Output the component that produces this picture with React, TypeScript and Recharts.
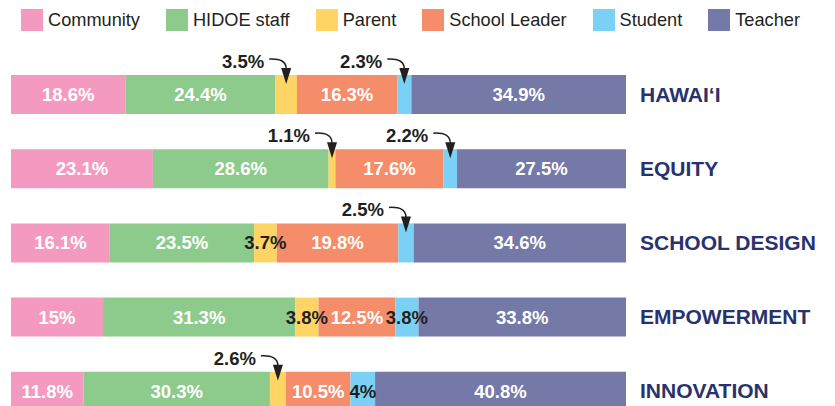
import React from "react";
import { BarChart, Bar, XAxis, YAxis, Legend, LabelList } from "recharts";

const categories = ["HAWAI\u2018I", "EQUITY", "SCHOOL DESIGN", "EMPOWERMENT", "INNOVATION"];
const community = [18.6, 23.1, 16.1, 15, 11.8];
const hidoeStaff = [24.4, 28.6, 23.5, 31.3, 30.3];
const parent = [3.5, 1.1, 3.7, 3.8, 2.6];
const schoolLeader = [16.3, 17.6, 19.8, 12.5, 10.5];
const student = [2.3, 2.2, 2.5, 3.8, 4];
const teacher = [34.9, 27.5, 34.6, 33.8, 40.8];

const seriesNames = ["Community", "HIDOE staff", "Parent", "School Leader", "Student", "Teacher"];
const seriesKeys = ["community", "hidoe", "parent", "leader", "student", "teacher"];
const seriesValues = [community, hidoeStaff, parent, schoolLeader, student, teacher];
const colors = ["#f49ac0", "#8dcb8c", "#fed464", "#f58c6a", "#7ad1f5", "#7479a7"];

const data = categories.map((name, i) => {
  const row: any = { name };
  seriesKeys.forEach((k, s) => {
    row[k] = seriesValues[s][i];
  });
  return row;
});

const FONT = "'Liberation Sans', Arial, Helvetica, sans-serif";
const DARK = "#231f20";

const makeLabel = (values: number[]) => (props: any) => {
  const { x, y, width, height, index } = props;
  const v = values[index];
  const cx = x + width / 2;
  const text = `${v}%`;
  if (v >= 5) {
    return (
      <text x={cx} y={y + height / 2 + 6.5} textAnchor="middle" fill="#ffffff" fontSize={18.5} fontWeight="bold" fontFamily={FONT}>
        {text}
      </text>
    );
  }
  if (v >= 3.6) {
    return (
      <text x={cx} y={y + height / 2 + 6.5} textAnchor="middle" fill={DARK} fontSize={18.5} fontWeight="bold" fontFamily={FONT}>
        {text}
      </text>
    );
  }
  const top = y;
  return (
    <g>
      <text x={cx - 22} y={top - 7} textAnchor="end" fill={DARK} fontSize={18.5} fontWeight="bold" fontFamily={FONT}>
        {text}
      </text>
      <path d={`M ${cx - 17} ${top - 16} Q ${cx} ${top - 17} ${cx} ${top - 6}`} fill="none" stroke={DARK} strokeWidth={1.5} />
      <polygon points={`${cx - 5},${top - 7} ${cx + 5},${top - 7} ${cx},${top + 9}`} fill={DARK} />
    </g>
  );
};

const LegendContent = () => (
  <div style={{ display: "flex", flexWrap: "nowrap", alignItems: "flex-start", width: 835, height: 40, boxSizing: "border-box", paddingTop: 9, paddingLeft: 21, fontFamily: FONT, whiteSpace: "nowrap" }}>
    {seriesNames.map((n, i) => (
      <div key={n} style={{ display: "flex", flexShrink: 0, alignItems: "center", marginRight: 26 }}>
        <div style={{ width: 22, height: 22, flexShrink: 0, background: colors[i], marginRight: 5 }} />
        <span style={{ fontSize: 18.2, lineHeight: "22px", color: DARK, whiteSpace: "nowrap" }}>{n}</span>
      </div>
    ))}
  </div>
);

const CategoryTick = (props: any) => {
  const { x, y, payload } = props;
  return (
    <text x={x} y={y + 7.5} textAnchor="start" fill="#28336e" fontSize={21} fontWeight="bold" fontFamily={FONT}>
      {payload.value}
    </text>
  );
};

export default function App() {
  return (
    <div style={{ position: "fixed", left: 0, top: 0, width: 835, height: 406, overflow: "hidden", background: "#ffffff" }}>
      <BarChart
        width={835}
        height={440}
        data={data}
        layout="vertical"
        stackOffset="expand"
        margin={{ top: 17, right: 0, left: 11, bottom: 12 }}
      >
        <XAxis type="number" hide domain={[0, 1]} />
        <YAxis
          type="category"
          dataKey="name"
          orientation="right"
          width={209}
          axisLine={false}
          tickLine={false}
          tickSize={0}
          tickMargin={14}
          tick={<CategoryTick />}
        />
        <Legend verticalAlign="top" content={<LegendContent />} wrapperStyle={{ top: 0, left: 0, width: 835 }} />
        {seriesKeys.map((k, i) => (
          <Bar key={k} dataKey={k} name={seriesNames[i]} stackId="a" fill={colors[i]} barSize={39} isAnimationActive={false}>
            <LabelList dataKey={k} content={makeLabel(seriesValues[i])} />
          </Bar>
        ))}
      </BarChart>
    </div>
  );
}
